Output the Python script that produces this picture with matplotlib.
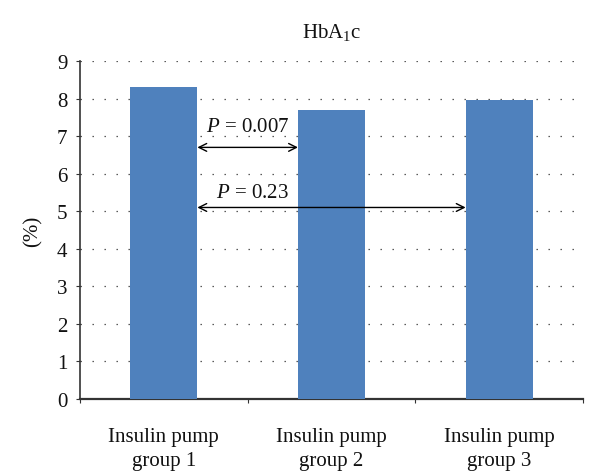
import matplotlib
matplotlib.use("Agg")
import matplotlib.pyplot as plt

# -----------------------
# Data
# -----------------------
groups = ["Insulin pump\ngroup 1", "Insulin pump\ngroup 2", "Insulin pump\ngroup 3"]
hba1c = [8.3, 7.7, 7.95]

# comparisons: (from group, to group, arrow level, label)
comp_from = [0, 0]
comp_to = [1, 2]
comp_y = [6.7, 5.1]
comp_labels = [r"$\mathit{P}$ = 0.007", r"$\mathit{P}$ = 0.23"]

yticks = list(range(0, 10))

bar_color = "#4F81BD"
axis_color = "#333333"
text = "#111111"

plt.rcParams.update({
    "font.family": "Liberation Serif",
    "mathtext.fontset": "custom",
    "mathtext.it": "Liberation Serif:italic",
    "mathtext.rm": "Liberation Serif",
    "font.size": 14,
})

fig = plt.figure(figsize=(6.0, 4.77), dpi=100)
ax = fig.add_axes([0.1333, 0.1614, 0.8384, 0.7086])

x = [i + 0.5 for i in range(len(groups))]
bar_w = 0.4
ax.bar(x, hba1c, width=bar_w, color=bar_color, zorder=3)

# dotted horizontal grid (not at 0)
for v in yticks[1:]:
    ax.axhline(v, color="#444444", lw=0.9, ls=(0, (1.1, 8.5)), zorder=1)

# comparison arrows between bar edges
label_dx = [0.0, 0.03]
label_dy = [0.55, 0.4]
for f, t, yy, lab, dx, dy in zip(comp_from, comp_to, comp_y, comp_labels,
                                 label_dx, label_dy):
    x0 = x[f] + bar_w / 2
    x1 = x[t] - bar_w / 2
    ax.annotate("", xy=(x1, yy), xytext=(x0, yy),
                arrowprops=dict(arrowstyle="<->", color="black", lw=1.0,
                                shrinkA=0, shrinkB=0,
                                mutation_scale=14),
                zorder=4)
    ax.text(1.0 + dx, yy + dy, lab, ha="center", va="center",
            fontsize=15, color=text, zorder=5)

ax.set_xlim(0, 3)
ax.set_ylim(0, 9)
ax.set_yticks(yticks)
ax.set_xticks([0, 1, 2, 3])
ax.set_xticklabels([])
ax.set_xticks(x, minor=True)
ax.set_xticklabels(groups, minor=True, fontsize=15, color=text,
                   linespacing=1.4)
ax.tick_params(axis="x", which="minor", length=0, pad=20)
ax.tick_params(axis="x", which="major", length=3, direction="out", color=axis_color)
ax.tick_params(axis="y", length=3, direction="out", color=axis_color,
               labelsize=15, labelcolor=text, pad=6)

ax.set_title(r"HbA$_1$c", fontsize=15, color=text, pad=17)
ax.set_ylabel("(%)", fontsize=15, color=text, labelpad=10)

ax.spines["top"].set_visible(False)
ax.spines["right"].set_visible(False)
ax.spines["left"].set_color(axis_color)
ax.spines["bottom"].set_color(axis_color)
ax.spines["left"].set_linewidth(1.2)
ax.spines["bottom"].set_linewidth(1.6)

fig.savefig("out.png", dpi=100)
plt.close(fig)
